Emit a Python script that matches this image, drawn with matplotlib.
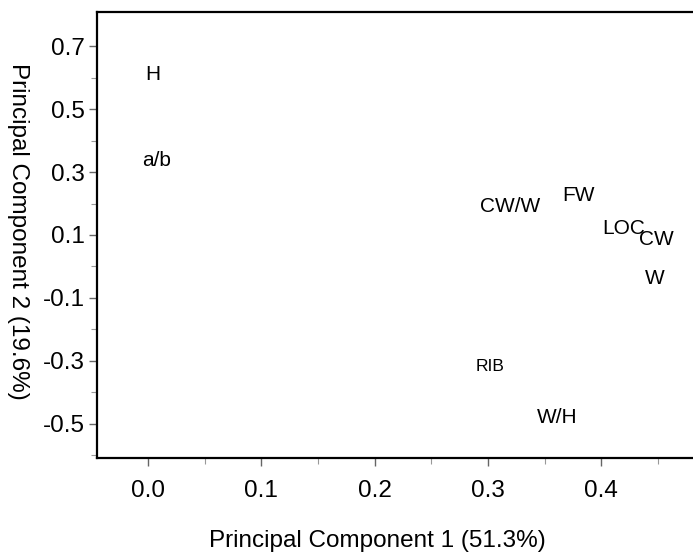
import matplotlib
matplotlib.use("Agg")
import matplotlib.pyplot as plt
from matplotlib.ticker import FixedLocator

plt.rcParams['font.family'] = ['Liberation Sans', 'DejaVu Sans']

labels = ["H", "a/b", "CW/W", "FW", "LOC", "CW", "W", "RIB", "W/H"]
pc1 = [0.004, 0.008, 0.320, 0.380, 0.420, 0.449, 0.4475, 0.302, 0.361]
pc2 = [0.608, 0.335, 0.192, 0.224, 0.122, 0.087, -0.037, -0.319, -0.481]
sizes = [15, 15, 15, 15, 15, 15, 15, 12.5, 15]

xticks = [0.0, 0.1, 0.2, 0.3, 0.4]
yticks = [-0.5, -0.3, -0.1, 0.1, 0.3, 0.5, 0.7]
xminor = [0.05, 0.15, 0.25, 0.35, 0.45]
yminor = [-0.6, -0.4, -0.2, 0.0, 0.2, 0.4, 0.6]

fig = plt.figure(figsize=(6.93, 5.54), dpi=100)
ax = fig.add_axes([97/693, 1-458/554, 1-97/693 + 0.01, (458-12)/554])
ax.set_xlim(-0.045, 0.4871)
ax.set_ylim(-0.608, 0.808)

for lab, x, y, s in zip(labels, pc1, pc2, sizes):
    ax.text(x, y, lab, ha='center', va='center', fontsize=s, color='black')

ax.set_xticks(xticks)
ax.set_xticklabels([f"{v:.1f}" for v in xticks])
ax.set_yticks(yticks)
ax.set_yticklabels([f"{v:.1f}" for v in yticks])
ax.xaxis.set_minor_locator(FixedLocator(xminor))
ax.yaxis.set_minor_locator(FixedLocator(yminor))

ax.tick_params(axis='both', which='major', direction='out', length=6, width=1,
               color='#666666', labelsize=17.5, labelcolor='black')
ax.tick_params(axis='both', which='minor', direction='out', length=4, width=0.8,
               color='#999999')
ax.tick_params(axis='x', which='major', pad=10)
ax.tick_params(axis='y', which='major', pad=3)

for side in ['left', 'bottom', 'top']:
    ax.spines[side].set_linewidth(1.6)
    ax.spines[side].set_color('black')
ax.spines['right'].set_visible(False)

fig.text(377/693, 1-541/554, "Principal Component 1 (51.3%)", ha='center', va='center',
         fontsize=17.5)
fig.text(18/693, 1-231/554, "Principal Component 2 (19.6%)", ha='center', va='center',
         fontsize=17.5, rotation=-90)

fig.savefig("out.png", dpi=100)
